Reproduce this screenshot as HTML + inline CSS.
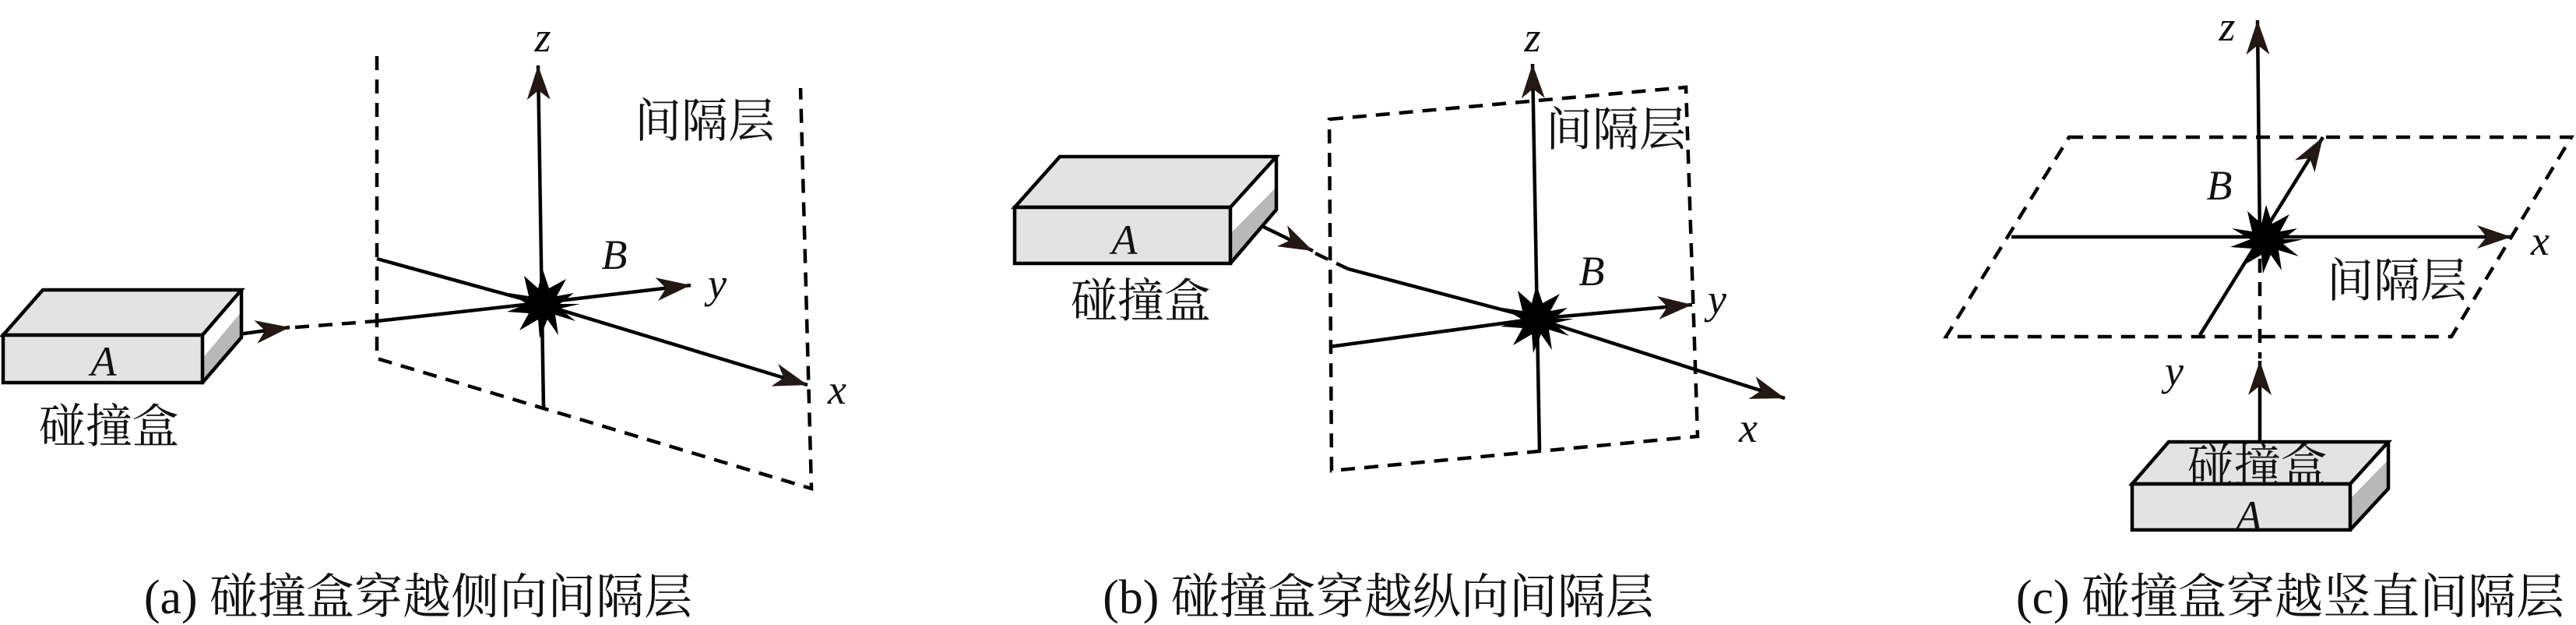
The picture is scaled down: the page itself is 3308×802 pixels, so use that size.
<!DOCTYPE html>
<html><head><meta charset="utf-8"><style>
html,body{margin:0;padding:0;background:#fff;}
svg{display:block;}
.cj{font-family:"Liberation Serif","Noto Serif CJK SC",serif;fill:#111;}
.it{font-family:"Liberation Serif",serif;font-style:italic;fill:#111;}
</style></head><body>
<svg width="3308" height="802" viewBox="0 0 3308 802" xmlns="http://www.w3.org/2000/svg">
<defs>
<marker id="ar" markerUnits="userSpaceOnUse" markerWidth="60" markerHeight="40" refX="0" refY="0" viewBox="-45 -20 50 40" orient="auto">
<path d="M0,0 L-44,-15 L-32,0 L-44,15 Z" fill="#231815"/>
</marker>
<g id="star"><polygon fill="#000" points="48,0 22,6 42,22 16,14 20,40 6,20 -4,44 -6,20 -30,34 -18,12 -46,10 -20,0 -44,-14 -18,-10 -24,-36 -6,-20 0,-44 8,-20 30,-32 18,-10 40,-14 22,0"/></g>
</defs>
<g fill="none" stroke="#000" stroke-width="4.5">
<!-- Panel a -->
<g stroke-dasharray="18,12">
<path d="M484,72 L484,460 L1042,627 L1028,113"/>
<path d="M379,420 L484,412"/>
</g>
<path d="M698,524 L691,84" marker-end="url(#ar)"/>
<path d="M484,412 L691,389"/>
<path d="M484,332 L691,389 L1037,494" marker-end="url(#ar)"/>
<path d="M691,389 L887,366" marker-end="url(#ar)"/>
<path d="M284,432 L372,420" marker-end="url(#ar)"/>
<path d="M260,430 L310,372 L310,433 L260,491 Z" fill="#b8b8b8" stroke="none"/>
<path d="M260,430 L310,372 L310,400 L260,460Z" fill="#fff" stroke="none"/>
<path d="M4,430 L55,372 L310,372 L260,430 Z" fill="#e3e3e3"/>
<rect x="4" y="430" width="256" height="61" fill="#e3e3e3"/>
<path d="M260,491 L310,433 L310,372"/>

<!-- Panel b -->
<g stroke-dasharray="18,12">
<path d="M1707,153 L2165,112 L2180,560 L1710,604 Z"/>
<path d="M1689,325 L1731,345"/>
</g>
<path d="M1977,578 L1968,82" marker-end="url(#ar)"/>
<path d="M1731,345 L1973,409 L2292,511" marker-end="url(#ar)"/>
<path d="M1707,445 L1973,409 L2173,391" marker-end="url(#ar)"/>
<path d="M1602,281 L1686,322" marker-end="url(#ar)"/>
<path d="M1580,266 L1639,201 L1639,269 L1580,338 Z" fill="#b8b8b8" stroke="none"/>
<path d="M1580,266 L1639,201 L1639,240 L1580,300Z" fill="#fff" stroke="none"/>
<path d="M1303,266 L1361,201 L1639,201 L1580,266 Z" fill="#e3e3e3"/>
<rect x="1303" y="266" width="277" height="72" fill="#e3e3e3"/>
<path d="M1580,338 L1639,269 L1639,201"/>

<!-- Panel c -->
<g stroke-dasharray="18,12">
<path d="M2657,176 L3302,176 L3148,432 L2499,432 Z"/>
<path d="M2902,332 L2902,460"/>
</g>
<path d="M2902,310 L2899,26" marker-end="url(#ar)"/>
<path d="M2583,304 L3225,304" marker-end="url(#ar)"/>
<path d="M2825,430 L2983,176" marker-end="url(#ar)"/>
<path d="M2902,565 L2902,463" marker-end="url(#ar)"/>
<path d="M3018,621 L3067,567 L3067,627 L3018,680 Z" fill="#b8b8b8" stroke="none"/>
<path d="M3018,621 L3067,567 L3067,590 L3018,640Z" fill="#fff" stroke="none"/>
<path d="M2738,621 L2785,567 L3067,567 L3018,621 Z" fill="#e3e3e3"/>
<rect x="2738" y="621" width="280" height="59" fill="#e3e3e3"/>
<path d="M3018,680 L3067,627 L3067,567"/>
</g>
<use href="#star" x="697" y="390"/>
<use href="#star" x="1973" y="409"/>
<use href="#star" x="2910" y="307"/>

<g class="it" font-size="54" text-anchor="middle">
<text x="697" y="66">z</text><text x="789" y="345">B</text><text x="921" y="382">y</text><text x="1075" y="518">x</text><text x="133" y="482">A</text>
<text x="1968" y="66">z</text><text x="2044" y="366">B</text><text x="2205" y="402">y</text><text x="2245" y="567">x</text><text x="1444" y="326">A</text>
<text x="2860" y="52">z</text><text x="2850" y="256">B</text><text x="3262" y="327">x</text><text x="2792" y="494">y</text><text x="2888" y="680">A</text>
</g>
<g class="cj" font-size="60" text-anchor="middle">
<text x="905" y="176">间隔层</text><text x="140" y="568">碰撞盒</text>
<text x="2075" y="187">间隔层</text><text x="1465" y="407">碰撞盒</text>
<text x="3078" y="381">间隔层</text><text x="2899" y="619">碰撞盒</text>
</g>
<g class="cj" font-size="62" text-anchor="middle">
<text x="537" y="787">(a) 碰撞盒穿越侧向间隔层</text>
<text x="1770" y="787">(b) 碰撞盒穿越纵向间隔层</text>
<text x="2941" y="787">(c) 碰撞盒穿越竖直间隔层</text>
</g>
</svg>
</body></html>
